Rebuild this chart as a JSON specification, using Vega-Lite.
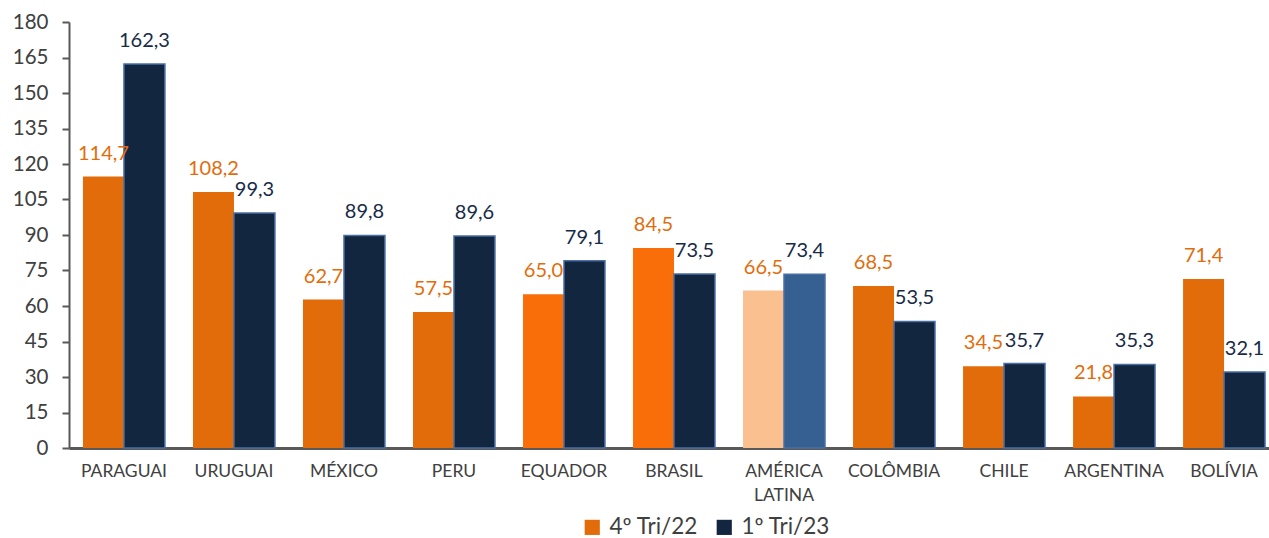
{
  "$schema": "https://vega.github.io/schema/vega-lite/v6.json",
  "width": 1200,
  "height": 426,
  "autosize": {"type": "none"},
  "padding": {"left": 69, "top": 22, "right": 0, "bottom": 90},
  "config": {
    "font": "Lato",
    "view": {"stroke": null},
    "locale": {"number": {"decimal": ",", "thousands": ".", "grouping": [3], "currency": ["", ""]}}
  },
  "data": {"values": [
    {"pais": "PARAGUAI", "serie": "4º Tri/22", "valor": 114.7},
    {"pais": "PARAGUAI", "serie": "1º Tri/23", "valor": 162.3},
    {"pais": "URUGUAI", "serie": "4º Tri/22", "valor": 108.2},
    {"pais": "URUGUAI", "serie": "1º Tri/23", "valor": 99.3},
    {"pais": "MÉXICO", "serie": "4º Tri/22", "valor": 62.7},
    {"pais": "MÉXICO", "serie": "1º Tri/23", "valor": 89.8},
    {"pais": "PERU", "serie": "4º Tri/22", "valor": 57.5},
    {"pais": "PERU", "serie": "1º Tri/23", "valor": 89.6},
    {"pais": "EQUADOR", "serie": "4º Tri/22", "valor": 65.0},
    {"pais": "EQUADOR", "serie": "1º Tri/23", "valor": 79.1},
    {"pais": "BRASIL", "serie": "4º Tri/22", "valor": 84.5},
    {"pais": "BRASIL", "serie": "1º Tri/23", "valor": 73.5},
    {"pais": "AMÉRICA LATINA", "serie": "4º Tri/22", "valor": 66.5},
    {"pais": "AMÉRICA LATINA", "serie": "1º Tri/23", "valor": 73.4},
    {"pais": "COLÔMBIA", "serie": "4º Tri/22", "valor": 68.5},
    {"pais": "COLÔMBIA", "serie": "1º Tri/23", "valor": 53.5},
    {"pais": "CHILE", "serie": "4º Tri/22", "valor": 34.5},
    {"pais": "CHILE", "serie": "1º Tri/23", "valor": 35.7},
    {"pais": "ARGENTINA", "serie": "4º Tri/22", "valor": 21.8},
    {"pais": "ARGENTINA", "serie": "1º Tri/23", "valor": 35.3},
    {"pais": "BOLÍVIA", "serie": "4º Tri/22", "valor": 71.4},
    {"pais": "BOLÍVIA", "serie": "1º Tri/23", "valor": 32.1}
  ]},
  "encoding": {
    "x": {
      "field": "pais", "type": "nominal", "sort": null,
      "scale": {"paddingInner": 0.255, "paddingOuter": 0.127, "range": [0, 1210]},
      "axis": {
        "title": null, "labelAngle": 0, "ticks": false,
        "domainColor": "#595959", "domainWidth": 3,
        "labelFontSize": 17.5, "labelColor": "#404040", "labelPadding": 14,
        "labelBaseline": "top", "labelLineHeight": 24,
        "labelExpr": "datum.label == 'AMÉRICA LATINA' ? ['AMÉRICA', 'LATINA'] : datum.label"
      }
    },
    "xOffset": {"field": "serie", "type": "nominal", "sort": ["4º Tri/22", "1º Tri/23"]},
    "y": {
      "field": "valor", "type": "quantitative",
      "scale": {"domain": [0, 180], "nice": false},
      "axis": {
        "title": null, "grid": false,
        "values": [0, 15, 30, 45, 60, 75, 90, 105, 120, 135, 150, 165, 180],
        "domainColor": "#595959", "domainWidth": 2,
        "tickColor": "#595959", "tickSize": 7, "tickWidth": 2,
        "labelFontSize": 20.5, "labelColor": "#404040", "labelPadding": 14
      }
    }
  },
  "layer": [
    {
      "mark": {"type": "bar", "strokeWidth": 1.5},
      "encoding": {
        "color": {
          "condition": [
            {"test": "datum.pais === 'AMÉRICA LATINA' && datum.serie === '4º Tri/22'", "value": "#FAC090"},
            {"test": "datum.pais === 'AMÉRICA LATINA' && datum.serie === '1º Tri/23'", "value": "#376092"},
            {"test": "(datum.pais === 'EQUADOR' || datum.pais === 'BRASIL') && datum.serie === '4º Tri/22'", "value": "#FA6E0A"}
          ],
          "field": "serie", "type": "nominal",
          "scale": {"domain": ["4º Tri/22", "1º Tri/23"], "range": ["#E36C0A", "#13263F"]},
          "legend": {
            "title": null, "orient": "none", "direction": "horizontal",
            "legendX": 512, "legendY": 494,
            "symbolType": "square", "symbolSize": 230, "symbolStrokeWidth": 0,
            "labelFontSize": 22.5, "labelColor": "#404040", "columnPadding": 14, "labelOffset": 6
          }
        },
        "stroke": {
          "condition": {"test": "datum.serie === '1º Tri/23'", "value": "#4A6FA5"},
          "value": null
        }
      }
    },
    {
      "mark": {"type": "text", "baseline": "bottom", "dy": -13, "fontSize": 20},
      "encoding": {
        "text": {"field": "valor", "type": "quantitative", "format": ".1f"},
        "color": {
          "condition": {"test": "datum.serie === '4º Tri/22'", "value": "#E36C0A"},
          "value": "#172B48"
        }
      }
    }
  ]
}
